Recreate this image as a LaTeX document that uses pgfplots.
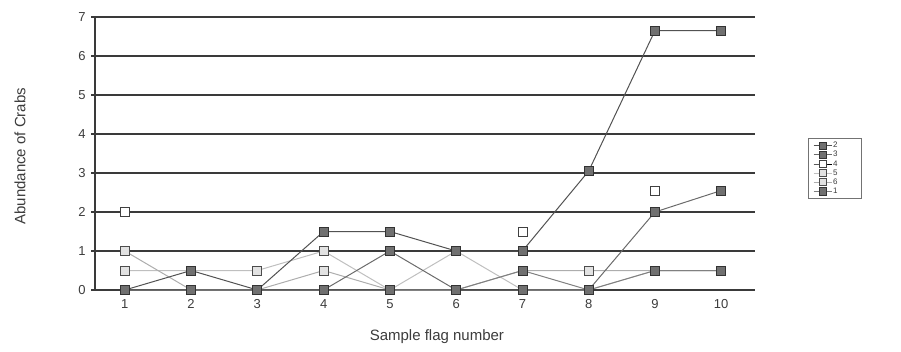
\documentclass[border=0pt]{standalone}
\usepackage{fontspec}
\setmainfont{Liberation Sans}
\usepackage{pgfplots}
\pgfplotsset{compat=1.18}
\definecolor{gridc}{HTML}{3A3A3A}
\definecolor{txt}{HTML}{3C3C3C}
\definecolor{darkfill}{HTML}{707070}
\definecolor{lightfill}{HTML}{E2E2E2}
\tikzset{
 s2/.style={color=black!68, line width=1bp, mark=square*, mark size=4.5bp, mark options={solid, fill=darkfill, draw=black!80, line width=0.8bp}},
 s3/.style={color=black!58, line width=1bp, mark=square*, mark size=4.5bp, mark options={solid, fill=darkfill, draw=black!80, line width=0.8bp}},
 s4/.style={draw=none, mark=square*, mark size=4.5bp, mark options={solid, fill=white, draw=black!75, line width=0.8bp}},
 s5/.style={color=black!25, line width=1bp, mark=square*, mark size=4.5bp, mark options={solid, fill=lightfill, draw=black!70, line width=0.8bp}},
 s6/.style={color=black!32, line width=1bp, mark=square*, mark size=4.5bp, mark options={solid, fill=lightfill, draw=black!70, line width=0.8bp}},
 s1/.style={color=black!50, line width=1bp, mark=square*, mark size=4.5bp, mark options={solid, fill=darkfill, draw=black!80, line width=0.8bp}},
}
\begin{document}
\begin{tikzpicture}[x=1bp,y=1bp]
\path[use as bounding box] (0,0) rectangle (901,351);
\begin{axis}[
 at={(95bp,61bp)}, anchor=south west,
 scale only axis, width=660bp, height=273bp,
 xmin=0.55, xmax=10.51, ymin=0, ymax=7,
 xtick={1,...,10}, ytick={0,...,7},
 axis x line*=bottom, axis y line*=left,
 axis line style={draw=gridc, line width=1.4bp, -},
 ymajorgrids, major grid style={draw=gridc, line width=1.4bp},
 tick align=outside, major tick length=4bp,
 ytick style={draw=gridc, line width=1.2bp},
 xtick style={draw=none},
 tick label style={font=\fontsize{13bp}{15bp}\selectfont, text=txt},
 xticklabel style={yshift=-2bp},
 yticklabel style={xshift=-2bp},
 /pgf/number format/assume math mode=true,
 xlabel={Sample flag number},
 ylabel={Abundance of Crabs},
 label style={font=\fontsize{15bp}{17bp}\selectfont, text=txt},
 xlabel style={at={(axis description cs:0.518,-0.172)}, anchor=center},
 ylabel style={at={(axis description cs:-0.1136,0.49)}, anchor=center, rotate=0},
 clip=false,
 legend style={at={(rel axis cs:1.080,0.557)}, anchor=north west,
   draw=black!55, line width=0.6bp, fill=white,
   font=\fontsize{8bp}{8bp}\selectfont, text=txt,
   inner xsep=5bp, inner ysep=3bp, row sep=0.3bp,
   nodes={inner sep=0.9bp}},
 legend cell align=left,
 legend image code/.code={%
   \draw[#1, mark size=3.6bp, mark repeat=2, mark phase=2] plot coordinates {(0bp,0bp) (9bp,0bp) (18bp,0bp)};},
]
\addlegendimage{s2}\addlegendentry{\makebox[22bp][l]{2}}
\addlegendimage{s3}\addlegendentry{3}
\addlegendimage{s4}\addlegendentry{4}
\addlegendimage{s5}\addlegendentry{5}
\addlegendimage{s6}\addlegendentry{6}
\addlegendimage{s1}\addlegendentry{1}
% series 4 (white markers, no line)
\addplot[s4, forget plot] coordinates {(1,2) (2,0) (3,0) (4,1) (5,0) (6,1) (7,1.5) (8,0.5) (9,2.55) (10,2.55)};
% series 5
\addplot[s5, forget plot] coordinates {(1,0.5) (2,0.5) (3,0.5) (4,1) (5,0) (6,1) (7,0) (8,0) (9,0.5) (10,0.5)};
% series 6
\addplot[s6, forget plot] coordinates {(1,1) (2,0) (3,0) (4,0.5) (5,0) (6,0) (7,0.5) (8,0.5) (9,0.5) (10,0.5)};
% series 1
\addplot[s1, forget plot] coordinates {(1,0) (2,0) (3,0) (4,0) (5,0) (6,0) (7,0.5) (8,0) (9,0.5) (10,0.5)};
% series 3
\addplot[s3, forget plot] coordinates {(1,0) (2,0) (3,0) (4,0) (5,1) (6,0) (7,0) (8,0) (9,2) (10,2.55)};
% series 2
\addplot[s2, forget plot] coordinates {(1,0) (2,0.5) (3,0) (4,1.5) (5,1.5) (6,1) (7,1) (8,3.05) (9,6.65) (10,6.65)};
\end{axis}
\end{tikzpicture}
\end{document}
